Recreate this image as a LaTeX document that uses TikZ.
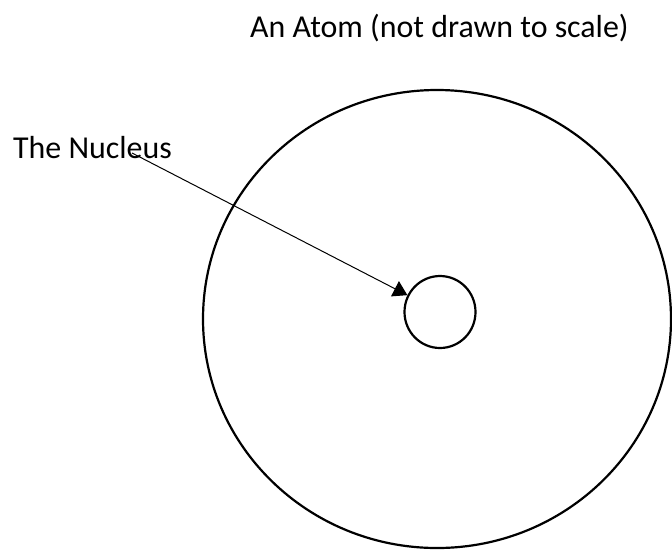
\documentclass[tikz,border=0pt]{standalone}
\usepackage{fontspec}
\setmainfont{Carlito}
\usepackage{tikz}
\usetikzlibrary{
    positioning,
    arrows.meta,
    shapes.geometric
}

\begin{document}
\begin{tikzpicture}[x=1pt, y=-1pt,
    lbl/.style={anchor=base west, inner sep=0pt, font=\fontsize{31.9}{38}\selectfont},
    shell/.style={draw, line width=2.2pt, ellipse, inner sep=0pt},
    arr/.style={-{Triangle[length=14pt, width=17pt]}, line width=1pt}]

    % ============ FRAME ============
    \useasboundingbox (0,0) rectangle (672,550);
    \clip (0,0) rectangle (672,550);

    % ============ LABELS ============
    \node[lbl] (title) at (250, 37) {An Atom (not drawn to scale)};
    \node[lbl] (nuclab) at (13, 158) {The Nucleus};
    \coordinate (start) at (132, 153);

    % ============ ATOM ============
    \node[shell, minimum width=468pt, minimum height=458pt] (atom) at (437, 319) {};
    \node[shell, minimum width=71pt, minimum height=72pt] (nucleus) at (440, 312) {};

    % pointer to the nucleus
    \draw[arr] (start) -- (nucleus);

\end{tikzpicture}
\end{document}
